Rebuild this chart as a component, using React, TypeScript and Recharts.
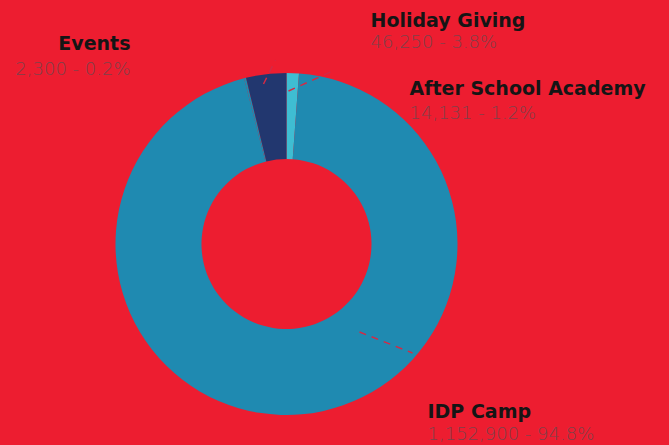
import React from "react"
import { PieChart, Pie, Cell } from "recharts"

const programs = ["After School Academy", "IDP Camp", "Events", "Holiday Giving"]
const amounts = [14131, 1152900, 2300, 46250]
const shares = ["1.2%", "94.8%", "0.2%", "3.8%"]
const colors = ["#3FBDD2", "#1F8AB1", "#1F8AB1", "#22376F"]

const data = programs.map((name, i) => ({ name, value: amounts[i], share: shares[i] }))

// hand placed label boxes (designer layout), relative to the pie centre
const labelPos = [
  { dx: 123, dy: -149, gap: 24, anchor: "start", line: [[2, -153], [44, -172]] },
  { dx: 141, dy: 174, gap: 22, anchor: "start", line: [[73, 88], [126, 109]] },
  { dx: -156, dy: -194, gap: 25, anchor: "end", line: null },
  { dx: 84, dy: -217, gap: 21, anchor: "start", line: [[-23, -160], [-11, -184]] },
]

const fmt = (n: number) => n.toLocaleString("en-US")

function renderLabel(props: any) {
  const { cx, cy, index, payload } = props
  const p = labelPos[index]
  const x = cx + p.dx
  const y = cy + p.dy
  return (
    <g>
      {p.line && (
        <line
          x1={cx + p.line[0][0]}
          y1={cy + p.line[0][1]}
          x2={cx + p.line[1][0]}
          y2={cy + p.line[1][1]}
          stroke="#D42A45"
          strokeWidth={1.5}
          strokeDasharray="7 6"
        />
      )}
      <text x={x} y={y} textAnchor={p.anchor} fontFamily="'DejaVu Sans', sans-serif" fontWeight={700} fontSize={19} fill="#151515">
        {payload.name}
      </text>
      <text x={x} y={y + p.gap} textAnchor={p.anchor} fontFamily="'DejaVu Sans', sans-serif" fontWeight={300} fontSize={18} fill="#80404A">
        {`${fmt(payload.value)} - ${payload.share}`}
      </text>
    </g>
  )
}

export default function App() {
  return (
    <div style={{ position: "absolute", top: 0, left: 0, width: 669, height: 445, background: "#ED1D30", overflow: "hidden" }}>
      <PieChart width={669} height={445} margin={{ top: 0, right: 0, bottom: 0, left: 0 }}>
        <Pie
          data={data}
          dataKey="value"
          nameKey="name"
          cx={286.5}
          cy={244}
          innerRadius={85}
          outerRadius={171}
          startAngle={90}
          endAngle={-270}
          stroke="none"
          label={renderLabel}
          labelLine={false}
          isAnimationActive={false}
        >
          {data.map((d, i) => (
            <Cell key={d.name} fill={colors[i]} />
          ))}
        </Pie>
      </PieChart>
    </div>
  )
}
